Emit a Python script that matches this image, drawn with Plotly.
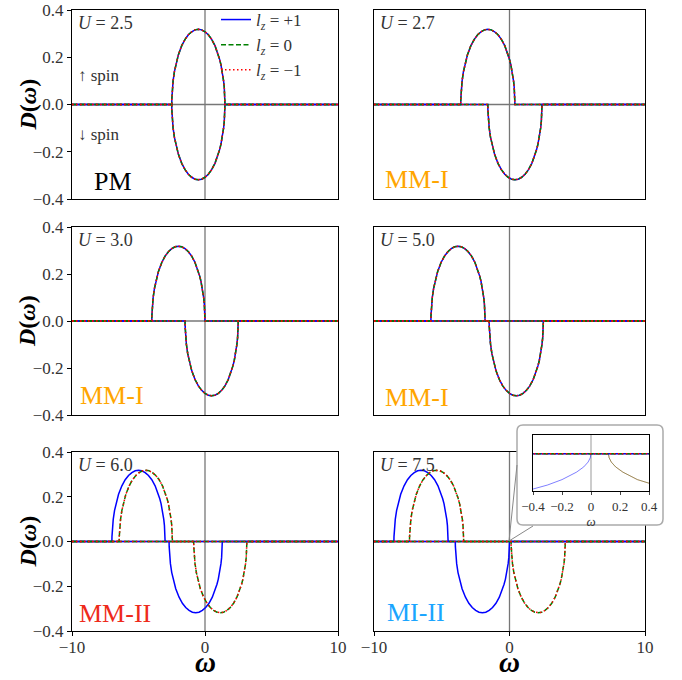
import plotly.graph_objects as go

W, H = 682, 680
FONT = "Liberation Serif"

# ---------------- data ----------------
U_values = [2.5, 2.7, 3.0, 5.0, 6.0, 7.5]
phase_labels = ["PM", "MM-I", "MM-I", "MM-I", "MM-II", "MI-II"]
phase_colors = ["#000000", "#FFA500", "#FFA500", "#FFA500", "#EE2A1A", "#1AA5FF"]

# band centres (omega) per panel, spin up / spin down, for l_z = +1, 0, -1
up_center_lp1 = [-0.5, -1.6, -2.0, -3.8, -5.0, -6.53]
up_center_l0 = [-0.5, -1.6, -2.0, -3.8, -4.45, -5.38]
up_center_lm1 = [-0.5, -1.6, -2.0, -3.8, -4.45, -5.38]
dn_center_lp1 = [-0.5, 0.4, 0.5, 0.5, -0.7, -2.0]
dn_center_l0 = [-0.5, 0.4, 0.5, 0.5, 1.15, 2.12]
dn_center_lm1 = [-0.5, 0.4, 0.5, 0.5, 1.15, 2.12]

# band shape: offset from band centre and D(omega)
band_offset = [-2.0, -1.995, -1.98, -1.95, -1.9, -1.8, -1.7, -1.6, -1.5, -1.25,
               -1.0, -0.75, -0.5, -0.25, 0.0, 0.25, 0.5, 0.75, 1.0, 1.25,
               1.5, 1.6, 1.7, 1.8, 1.9, 1.95, 1.98, 1.995, 2.0]
band_height = [0.0, 0.022, 0.045, 0.071, 0.099, 0.139, 0.168, 0.191, 0.211, 0.249,
               0.276, 0.295, 0.308, 0.316, 0.318, 0.316, 0.308, 0.295, 0.276, 0.249,
               0.211, 0.191, 0.168, 0.139, 0.099, 0.071, 0.045, 0.022, 0.0]

omega_range = [-10, 10]
y_ticks = [-0.4, -0.2, 0.0, 0.2, 0.4]
x_ticks = [-10, 0, 10]
inset_x_ticks = [-0.4, -0.2, 0.0, 0.2, 0.4]
inset_x_ticktext = ["\u22120.4", "\u22120.2", "0", "0.2", "0.4"]

lz_names = ["<i>l</i><sub><i>z</i></sub> = +1",
            "<i>l</i><sub><i>z</i></sub> = 0",
            "<i>l</i><sub><i>z</i></sub> = \u22121"]
lz_colors = ["blue", "green", "red"]
lz_dash = ["solid", "5px,2.5px", "1.5px,2.5px"]
up_centers = [up_center_lp1, up_center_l0, up_center_lm1]
dn_centers = [dn_center_lp1, dn_center_l0, dn_center_lm1]

# ---------------- layout helpers ----------------
cols_px = [(72, 338), (374, 645)]
rows_px = [(10, 199), (227, 415), (452, 631)]


def px(x):
    return x / W


def py(y):
    return 1 - y / H


def curve(center, sign):
    xs = [omega_range[0]] + [center + o for o in band_offset] + [omega_range[1]]
    ys = [0.0] + [sign * h for h in band_height] + [0.0]
    return xs, ys


fig = go.Figure()
layout = dict(
    template="none",
    width=W, height=H, margin=dict(l=0, r=0, t=0, b=0, pad=0, autoexpand=False),
    paper_bgcolor="white", plot_bgcolor="rgba(0,0,0,0)",
    font=dict(family=FONT, size=16, color="#333"),
    showlegend=True,
    legend=dict(x=px(216), y=py(2), xanchor="left", yanchor="top",
                bgcolor="rgba(0,0,0,0)", font=dict(size=17, color="#333"),
                tracegroupgap=0, itemwidth=30, borderwidth=0),
)
shapes = []
annotations = []

for p in range(6):
    r, c = divmod(p, 2)
    idx = p + 1
    xa = "x" if idx == 1 else f"x{idx}"
    ya = "y" if idx == 1 else f"y{idx}"
    x0, x1 = cols_px[c]
    y0, y1 = rows_px[r]
    layout["xaxis" if idx == 1 else f"xaxis{idx}"] = dict(
        domain=[px(x0), px(x1)], range=omega_range, anchor=ya, automargin=False,
        showline=True, linecolor="black", linewidth=1, mirror=True,
        showgrid=False, zeroline=False,
        ticks="outside" if r == 2 else "", ticklen=4, tickcolor="black",
        tickvals=x_ticks if r == 2 else [], showticklabels=(r == 2),
        ticklabelstandoff=-3,
        tickfont=dict(size=17, color="#333"),
    )
    layout["yaxis" if idx == 1 else f"yaxis{idx}"] = dict(
        domain=[py(y1), py(y0)], range=[-0.4, 0.4], anchor=xa, automargin=False,
        showline=True, linecolor="black", linewidth=1, mirror=True,
        showgrid=False, zeroline=False,
        ticks="outside" if c == 0 else "", ticklen=4, tickcolor="black",
        tickvals=y_ticks if c == 0 else [], tickformat=".1f",
        showticklabels=(c == 0), tickfont=dict(size=17, color="#333"),
    )
    # reference lines at omega = 0 and D = 0
    shapes.append(dict(type="line", xref=xa, yref=ya, x0=0, x1=0, y0=-0.4, y1=0.4,
                       line=dict(color="#777", width=1.3), layer="below"))
    shapes.append(dict(type="line", xref=xa, yref=ya, x0=-10, x1=10, y0=0, y1=0,
                       line=dict(color="#777", width=1.3), layer="below"))
    for k in range(3):
        for sign, centers in ((1, up_centers), (-1, dn_centers)):
            xs, ys = curve(centers[k][p], sign)
            fig.add_trace(go.Scatter(
                x=xs, y=ys, mode="lines", xaxis=xa, yaxis=ya,
                line=dict(color=lz_colors[k], width=1.5, dash=lz_dash[k]),
                name=lz_names[k], legendgroup=f"lz{k}",
                showlegend=(p == 0 and sign == 1), hoverinfo="skip"))
    # U label
    annotations.append(dict(x=px(x0 + 4), y=py(y0 + 13), xref="paper", yref="paper",
                            text=f"<i>U</i> = {U_values[p]:.1f}", showarrow=False,
                            xanchor="left", yanchor="middle",
                            font=dict(size=18, color="#333")))

# phase labels
phase_pos = [(92, 182), (383, 180), (78, 395), (383, 397), (77, 613), (385, 612)]
for p in range(6):
    annotations.append(dict(x=px(phase_pos[p][0]), y=py(phase_pos[p][1]),
                            xref="paper", yref="paper", text=phase_labels[p],
                            showarrow=False, xanchor="left", yanchor="middle",
                            font=dict(size=26, color=phase_colors[p])))

# spin labels
annotations.append(dict(x=px(76), y=py(75), xref="paper", yref="paper",
                        text="\u2191 spin", showarrow=False, xanchor="left",
                        yanchor="middle", font=dict(size=17, color="#333")))
annotations.append(dict(x=px(76), y=py(135), xref="paper", yref="paper",
                        text="\u2193 spin", showarrow=False, xanchor="left",
                        yanchor="middle", font=dict(size=17, color="#333")))

# axis titles
for r in range(3):
    yc = (rows_px[r][0] + rows_px[r][1]) / 2
    annotations.append(dict(x=px(27), y=py(yc), xref="paper", yref="paper",
                            text="<b><i>D</i>(<i>\u03c9</i>)</b>", showarrow=False,
                            textangle=-90, xanchor="center", yanchor="middle",
                            font=dict(size=24, color="black")))
for c in range(2):
    xc = (cols_px[c][0] + cols_px[c][1]) / 2
    annotations.append(dict(x=px(xc), y=0, xref="paper", yref="paper",
                            text="<b><i>\u03c9</i></b>", showarrow=False,
                            xanchor="center", yanchor="bottom",
                            font=dict(size=29, color="black")))

# ---------------- callout box (subplot 7) ----------------
bx0, by0, bx1, by1 = 514, 422, 666, 528
layout["xaxis7"] = dict(domain=[px(bx0), px(bx1)], range=[bx0, bx1], visible=False,
                        anchor="y7", fixedrange=True, automargin=False)
layout["yaxis7"] = dict(domain=[py(by1), py(by0)], range=[by1, by0], visible=False,
                        anchor="x7", fixedrange=True, automargin=False)
fig.add_trace(go.Scatter(x=[None], y=[None], xaxis="x7", yaxis="y7",
                         showlegend=False, hoverinfo="skip"))
shapes.append(dict(type="path", xref="x7", yref="y7", layer="below",
                   path="M 523,425 L 657,425 Q 663,425 663,431 L 663,519 "
                        "Q 663,525 657,525 L 523,525 Q 517,525 517,519 "
                        "L 517,431 Q 517,425 523,425 Z",
                   fillcolor="white", line=dict(color="#aaaaaa", width=1.5)))
# connector lines from (0,0) of the U=7.5 panel to the box
shapes.append(dict(type="line", xref="paper", yref="paper", x0=px(509), y0=py(541),
                   x1=px(517), y1=py(465), line=dict(color="#888", width=1),
                   layer="above"))
shapes.append(dict(type="line", xref="paper", yref="paper", x0=px(509), y0=py(541),
                   x1=px(533), y1=py(526), line=dict(color="#888", width=1),
                   layer="above"))

# ---------------- inset (subplot 8) ----------------
layout["xaxis8"] = dict(domain=[px(533), px(649)], range=[-0.4, 0.4], anchor="y8",
                        automargin=False,
                        showline=True, linecolor="black", linewidth=1, mirror=True,
                        showgrid=False, zeroline=False, ticks="outside", ticklen=3,
                        tickvals=inset_x_ticks, ticktext=inset_x_ticktext,
                        tickfont=dict(size=13, color="#333"),
                        title=dict(text="<i>\u03c9</i>", font=dict(size=13, color="#333"),
                                   standoff=1))
layout["yaxis8"] = dict(domain=[py(491), py(435)], range=[-0.2, 0.1], anchor="x8",
                        automargin=False,
                        showline=True, linecolor="black", linewidth=1, mirror=True,
                        showgrid=False, zeroline=False, ticks="", showticklabels=False)
shapes.append(dict(type="line", xref="x8", yref="y8", x0=0, x1=0, y0=-0.2, y1=0.1,
                   line=dict(color="#999", width=1), layer="below"))
p = 5
inset_down_colors = ["rgba(0,0,255,0.5)", "rgba(0,128,0,0.4)", "rgba(255,0,0,0.4)"]
for k in (0, 2, 1):
    xs, ys = curve(dn_centers[k][p], -1)
    fig.add_trace(go.Scatter(x=xs, y=ys, mode="lines", xaxis="x8", yaxis="y8",
                             line=dict(color=inset_down_colors[k], width=1),
                             showlegend=False, hoverinfo="skip"))
for k in range(3):
    xs, ys = curve(up_centers[k][p], 1)
    fig.add_trace(go.Scatter(x=xs, y=ys, mode="lines", xaxis="x8", yaxis="y8",
                             line=dict(color=lz_colors[k], width=1.5, dash=lz_dash[k]),
                             showlegend=False, hoverinfo="skip"))

layout["shapes"] = shapes
layout["annotations"] = annotations
fig.update_layout(**layout)
fig.write_html("out.html",
               config={"displayModeBar": False},
               post_script="document.body.style.margin='0px';"
                           "document.body.style.overflow='hidden';")
